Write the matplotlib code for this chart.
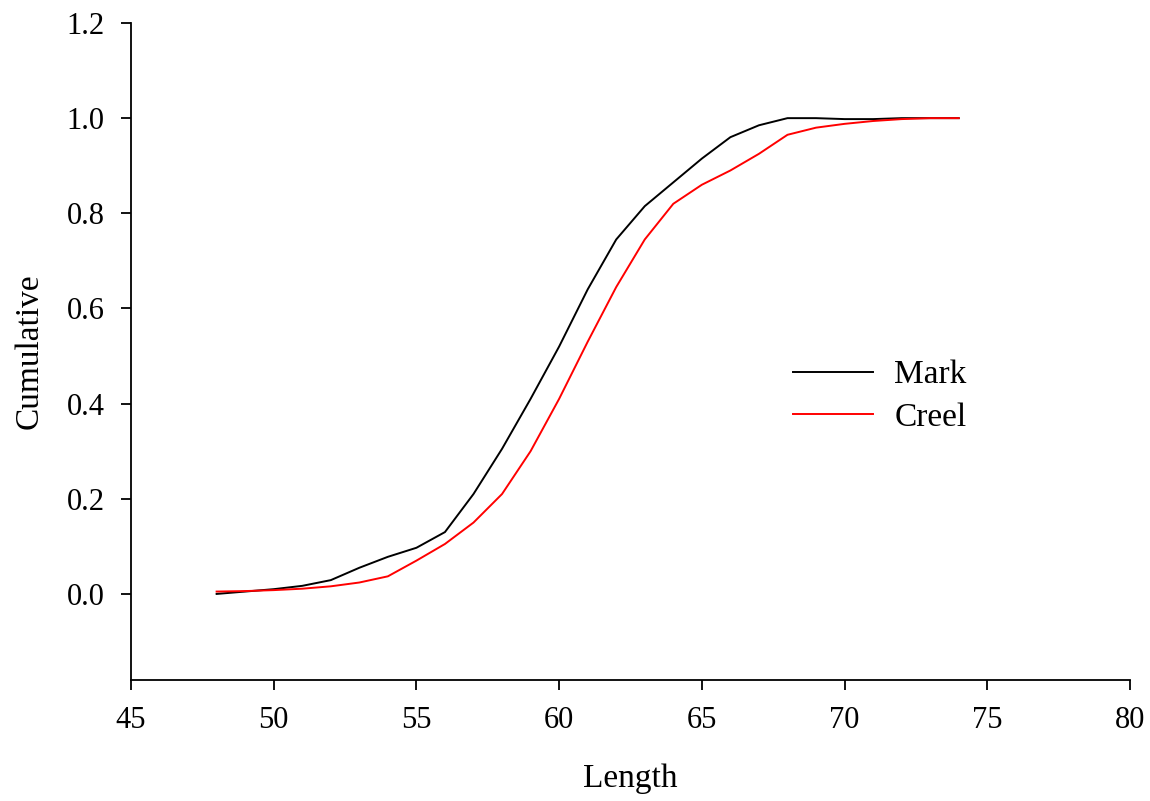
import matplotlib
matplotlib.use("Agg")
import matplotlib.pyplot as plt

# Data
length = [48, 49, 50, 51, 52, 53, 54, 55, 56, 57, 58, 59, 60, 61, 62, 63, 64, 65, 66, 67, 68, 69, 70, 71, 72, 73, 74]
mark = [0.0, 0.005, 0.01, 0.017, 0.029, 0.055, 0.078, 0.097, 0.13, 0.21, 0.305, 0.41, 0.52, 0.64, 0.745, 0.815, 0.865, 0.915, 0.96, 0.985, 1.0, 1.0, 0.998, 0.998, 1.0, 1.0, 1.0]
creel = [0.005, 0.006, 0.008, 0.011, 0.016, 0.024, 0.037, 0.07, 0.105, 0.15, 0.21, 0.30, 0.41, 0.53, 0.645, 0.745, 0.82, 0.86, 0.89, 0.925, 0.965, 0.98, 0.988, 0.994, 0.998, 1.0, 1.0]

plt.rcParams["font.family"] = ["Liberation Serif", "DejaVu Serif"]

fig = plt.figure(figsize=(11.5, 8.01), dpi=100)
ax = fig.add_axes([0.1139, 0.151, 0.8687, 0.8203])

ax.plot(length, mark, color="black", lw=1.4, label="Mark")
ax.plot(length, creel, color="red", lw=1.4, label="Creel")

ax.set_xlim(45, 80)
ax.set_ylim(-0.181, 1.2)
ax.set_xticks(range(45, 81, 5))
ax.set_yticks([0.0, 0.2, 0.4, 0.6, 0.8, 1.0, 1.2])
ax.set_yticklabels(["0.0", "0.2", "0.4", "0.6", "0.8", "1.0", "1.2"])

for s in ["top", "right"]:
    ax.spines[s].set_visible(False)
for s in ["left", "bottom"]:
    ax.spines[s].set_linewidth(1.3)
ax.tick_params(direction="out", length=7, width=1.3, labelsize=22, pad=12)

ax.set_xlabel("Length", fontsize=24, labelpad=20)
ax.set_ylabel("Cumulative", fontsize=24, labelpad=16)

ax.legend(loc="center left", bbox_to_anchor=(0.633, 0.432), frameon=False,
          fontsize=24, handlelength=2.4, handletextpad=0.63, labelspacing=0.36)

fig.savefig("out.png", dpi=100)
